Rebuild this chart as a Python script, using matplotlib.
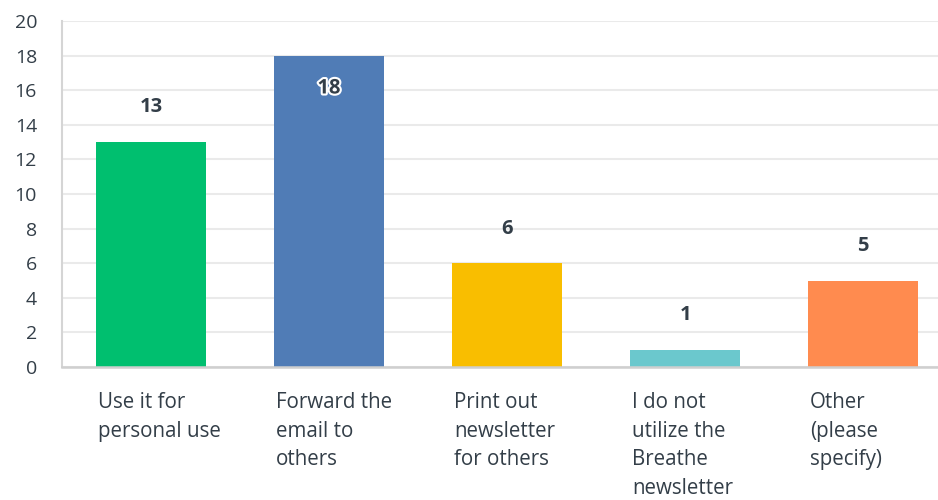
import matplotlib
matplotlib.use("Agg")
import matplotlib.pyplot as plt
import matplotlib.patheffects as pe

categories = ["Use it for\npersonal use", "Forward the\nemail to\nothers",
              "Print out\nnewsletter\nfor others", "I do not\nutilize the\nBreathe\nnewsletter",
              "Other\n(please\nspecify)"]
values = [13, 18, 6, 1, 5]
colors = ["#00BF6F", "#507CB6", "#F9BE00", "#6BC8CD", "#FF8B4F"]
yticks = [0, 2, 4, 6, 8, 10, 12, 14, 16, 18, 20]

plt.rcParams['font.family'] = ['Open Sans', 'DejaVu Sans']
text_color = "#333E48"

fig = plt.figure(figsize=(9.38, 5.0), dpi=100)
ax = fig.add_axes([0.0661, 0.266, 0.934, 0.692])

x = list(range(len(values)))
ax.bar(x, values, width=110/178, color=colors, zorder=3)
ax.set_xlim(-0.5, 4.42)
ax.set_ylim(0, 20)
ax.set_yticks(yticks)
ax.set_yticklabels([str(t) for t in yticks], fontsize=14, color=text_color)
ax.tick_params(axis='y', length=0, pad=18)
ax.tick_params(axis='x', length=0)
ax.set_xticks([])
ax.grid(axis='y', color="#EAEAEA", linewidth=1.5, zorder=0)
for s in ["top", "right"]:
    ax.spines[s].set_visible(False)
ax.spines["left"].set_color("#D5D5D5")
ax.spines["left"].set_linewidth(1.5)
ax.spines["bottom"].set_color("#CFCFCF")
ax.spines["bottom"].set_linewidth(1.8)
ax.spines["bottom"].set_zorder(4)

for xi, v in zip(x, values):
    if v + 2.0 >= 19.5:
        t = ax.text(xi, v - 1.9, str(v), ha="center", va="center", fontsize=14.5,
                    fontweight="bold", color=text_color, zorder=5)
        t.set_path_effects([pe.withStroke(linewidth=3, foreground="white")])
    else:
        ax.text(xi, v + 2.0, str(v), ha="center", va="center", fontsize=14.5,
                fontweight="bold", color=text_color, zorder=5)

bw = 110/178
for xi, lab in zip(x, categories):
    ax.text(xi - bw/2 + 0.01, -1.45, lab, ha="left", va="top", fontsize=14.8,
            color=text_color, linespacing=1.48, transform=ax.transData, clip_on=False)

fig.savefig("out.png", dpi=100)
